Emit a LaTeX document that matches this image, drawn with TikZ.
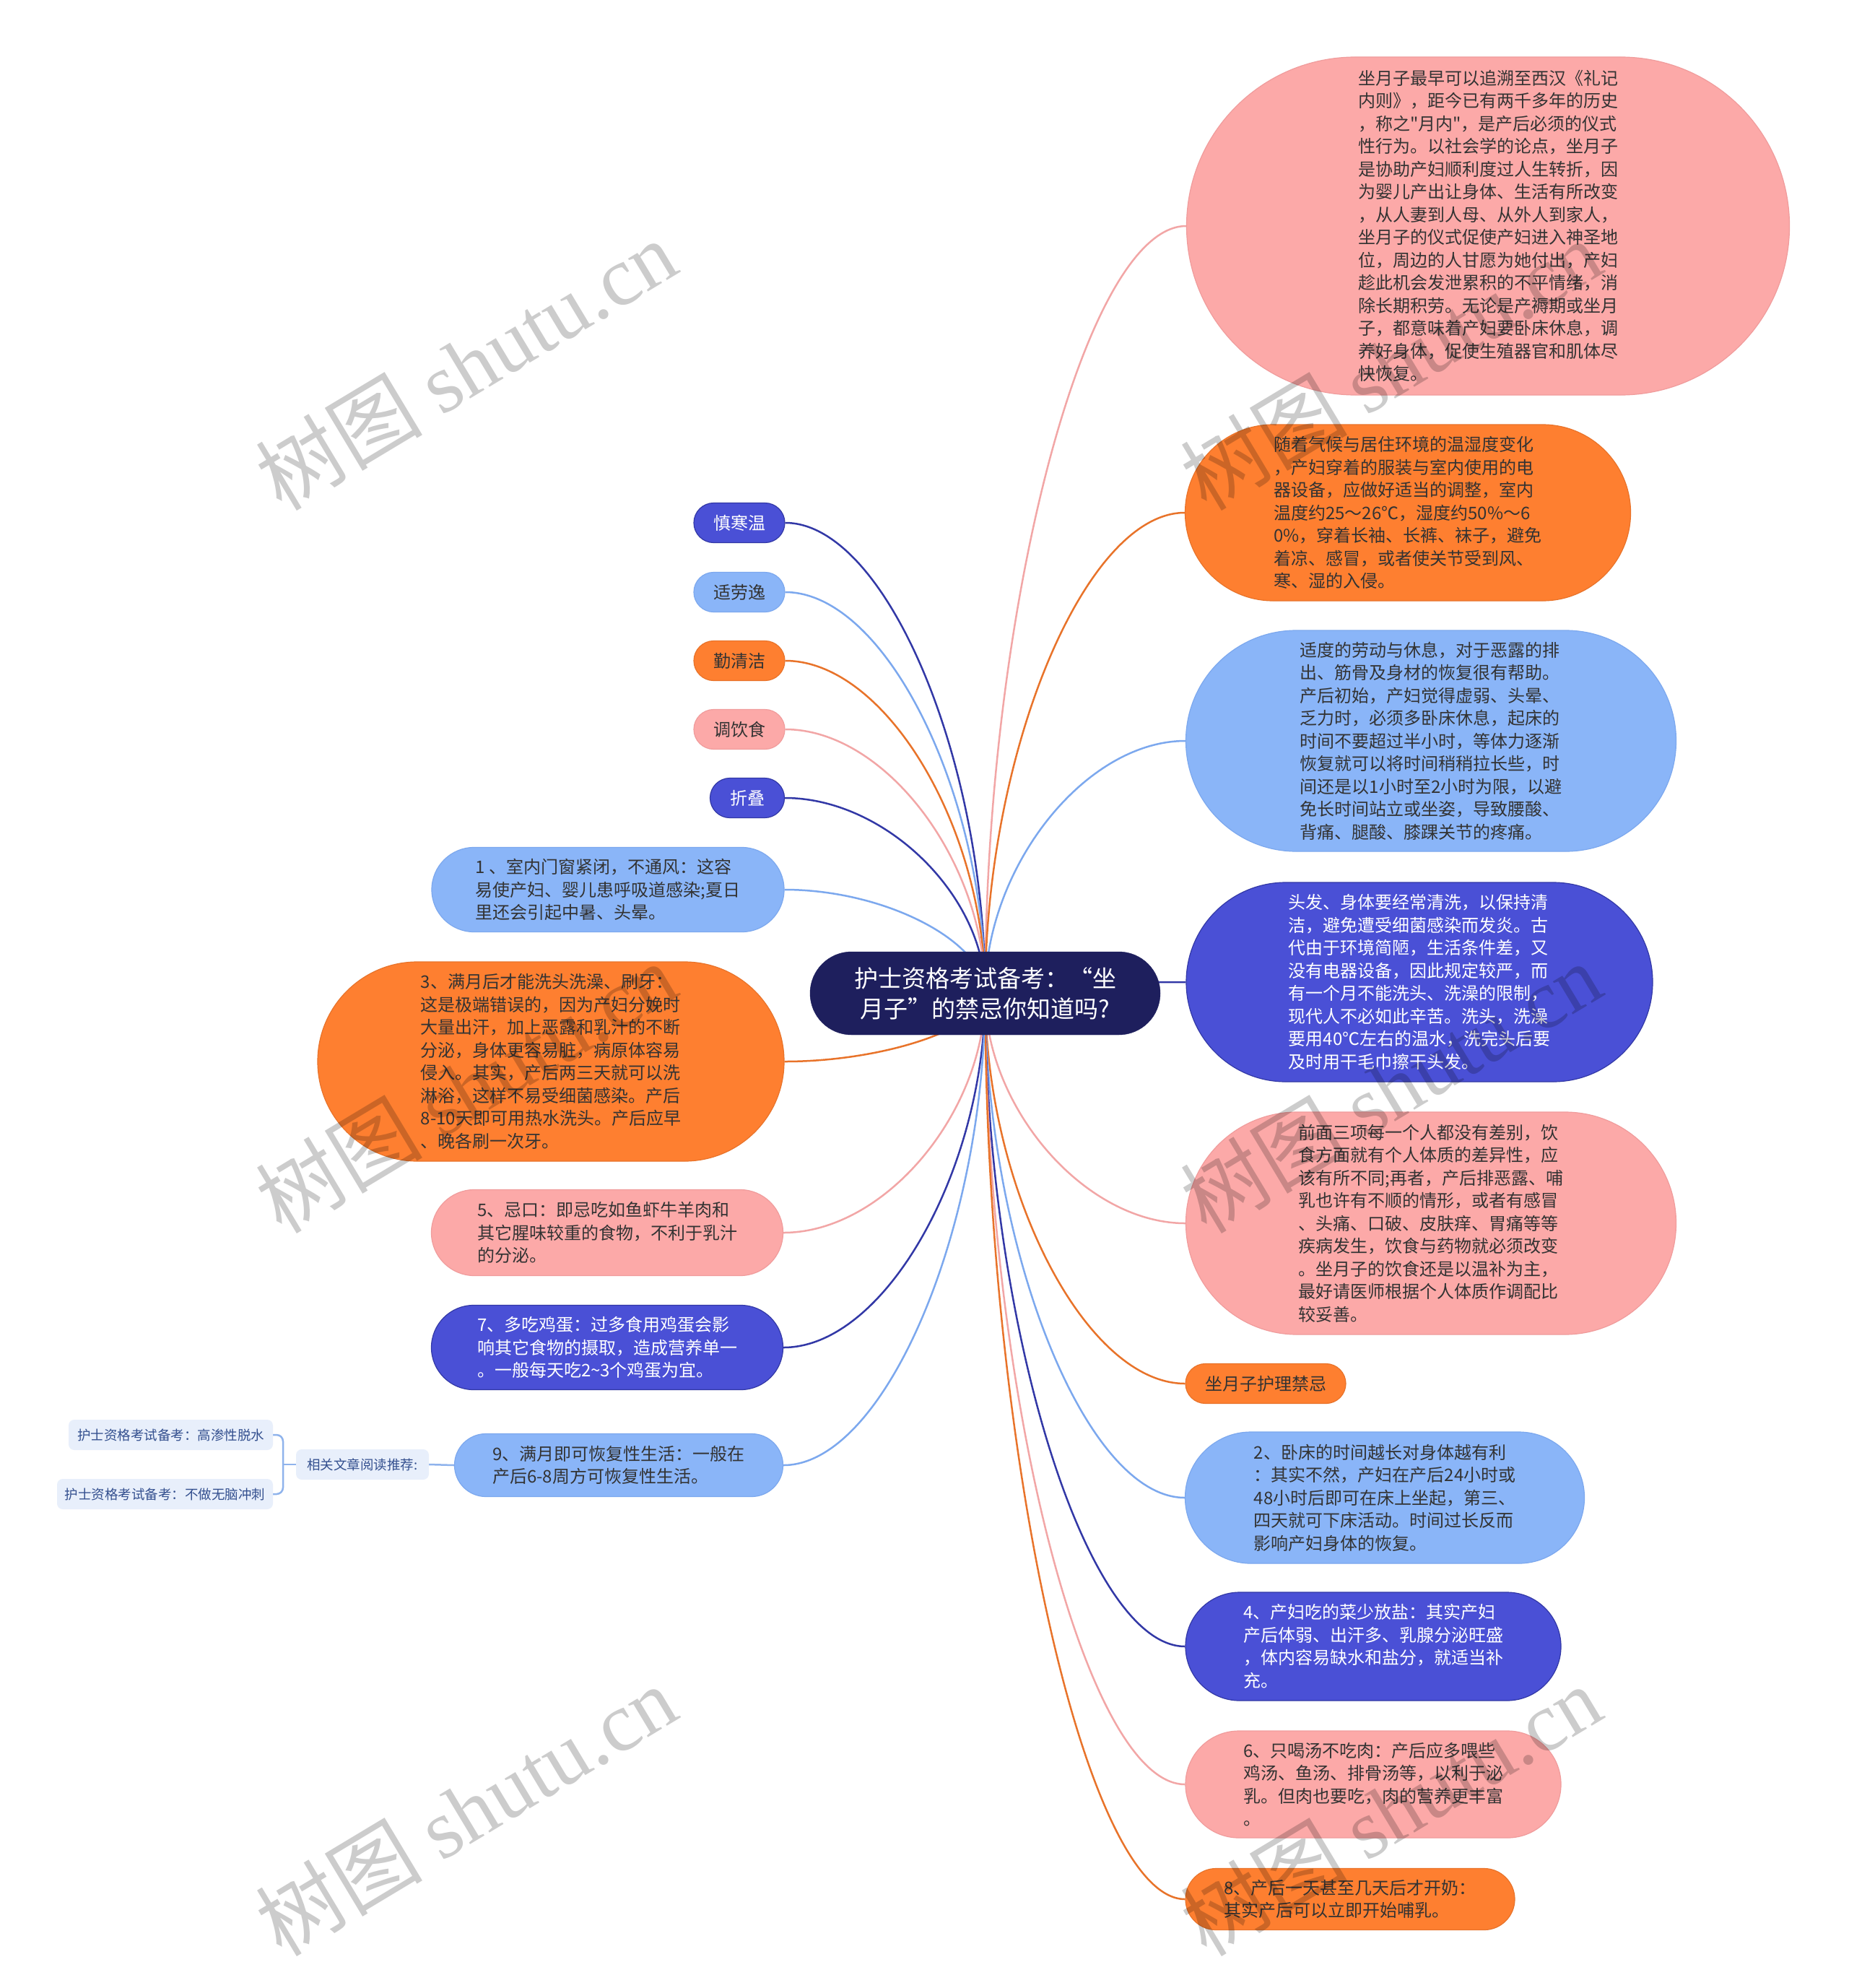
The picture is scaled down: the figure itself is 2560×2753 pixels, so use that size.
\documentclass[tikz,border=0pt]{standalone}
\usepackage{fontspec}
\newfontfamily\cjk{Noto Sans CJK SC}
\newfontfamily\wmlat{Liberation Serif}
\usetikzlibrary{calc}
\pgfdeclarelayer{bg}\pgfdeclarelayer{fg}
\pgfsetlayers{bg,main,fg}
\definecolor{pkF}{HTML}{FCA9A8}\definecolor{pkL}{HTML}{F09C9C}
\definecolor{ogF}{HTML}{FE7F30}\definecolor{ogL}{HTML}{E8732A}
\definecolor{lbF}{HTML}{8AB5F8}\definecolor{lbL}{HTML}{7CA8EE}
\definecolor{dbF}{HTML}{4A50D6}\definecolor{dbL}{HTML}{3238A6}
\definecolor{rtF}{HTML}{1E1F5D}
\definecolor{txt}{HTML}{333333}
\definecolor{relF}{HTML}{E8EFFB}\definecolor{relT}{HTML}{34508F}\definecolor{relL}{HTML}{8FB3EC}
\newcommand\mmnode[7]{\node[#1, minimum width=#5pt, minimum height=#6pt, rounded corners=#6pt/2] (#2) at (#3,#4) {#7};}
\newcommand\mmlink[2]{\draw[lnk,#1] (#2) .. controls ($(#2)!0.5!(root.center |- #2)$) and ($(root.center)!0.5!(root.center |- #2)$) .. (root.center);}
\tikzset{
  box/.style={inner sep=0pt, align=left, line width=1.2pt, font=\cjk\fontsize{24}{31.5}\selectfont},
  pk/.style={box, fill=pkF, draw=pkL, text=txt},
  og/.style={box, fill=ogF, draw=ogL, text=txt},
  lb/.style={box, fill=lbF, draw=lbL, text=txt},
  db/.style={box, fill=dbF, draw=dbL, text=white},
  rt/.style={inner sep=0pt, align=center, fill=rtF, draw=rtF, text=white, font=\cjk\fontsize{33}{42}\selectfont},
  rel/.style={inner sep=0pt, fill=relF, text=relT, rounded corners=8pt, font=\cjk\fontsize{18.5}{22}\selectfont},
  lnk/.style={line width=2.5pt},
  pkl/.style={draw=pkL!90!white}, ogl/.style={draw=ogL}, lbl/.style={draw=lbL}, dbl/.style={draw=dbL},
  brk/.style={draw=relL, line width=2.5pt},
  wm/.style={rotate=31, text=black, text opacity=0.2, inner sep=0pt, font=\fontsize{116}{116}\selectfont},
}
\begin{document}
\begin{tikzpicture}[x=1pt,y=-1pt]
\useasboundingbox (0,0) rectangle (2560,2753);
\begin{pgfonlayer}{bg}
\fill[white] (0,0) rectangle (2560,2753);
\end{pgfonlayer}

% root
\node[rt, minimum width=485pt, minimum height=115pt, rounded corners=57.5pt] (root) at (1364.5,1375.5) {护士资格考试备考：“坐\\月子”的禁忌你知道吗?};

% right side
\mmnode{pk}{r1}{2061}{313}{835}{468}{坐月子最早可以追溯至西汉《礼记\\内则》，距今已有两千多年的历史\\，称之"月内"，是产后必须的仪式\\性行为。以社会学的论点，坐月子\\是协助产妇顺利度过人生转折，因\\为婴儿产出让身体、生活有所改变\\，从人妻到人母、从外人到家人，\\坐月子的仪式促使产妇进入神圣地\\位，周边的人甘愿为她付出，产妇\\趁此机会发泄累积的不平情绪，消\\除长期积劳。无论是产褥期或坐月\\子，都意味着产妇要卧床休息，调\\养好身体，促使生殖器官和肌体尽\\快恢复。}
\mmnode{og}{r2}{1950}{710}{617}{244}{随着气候与居住环境的温湿度变化\\，产妇穿着的服装与室内使用的电\\器设备，应做好适当的调整，室内\\温度约25～26℃，湿度约50\%～6\\0\%，穿着长袖、长裤、袜子，避免\\着凉、感冒，或者使关节受到风、\\寒、湿的入侵。}
\mmnode{lb}{r3}{1982}{1026}{679}{306}{适度的劳动与休息，对于恶露的排\\出、筋骨及身材的恢复很有帮助。\\产后初始，产妇觉得虚弱、头晕、\\乏力时，必须多卧床休息，起床的\\时间不要超过半小时，等体力逐渐\\恢复就可以将时间稍稍拉长些，时\\间还是以1小时至2小时为限，以避\\免长时间站立或坐姿，导致腰酸、\\背痛、腿酸、膝踝关节的疼痛。}
\mmnode{db}{r4}{1966}{1360}{646}{276}{头发、身体要经常清洗，以保持清\\洁，避免遭受细菌感染而发炎。古\\代由于环境简陋，生活条件差，又\\没有电器设备，因此规定较严，而\\有一个月不能洗头、洗澡的限制，\\现代人不必如此辛苦。洗头，洗澡\\要用40℃左右的温水，洗完头后要\\及时用干毛巾擦干头发。}
\mmnode{pk}{r5}{1982}{1694}{679}{308}{前面三项每一个人都没有差别，饮\\食方面就有个人体质的差异性，应\\该有所不同;再者，产后排恶露、哺\\乳也许有不顺的情形，或者有感冒\\、头痛、口破、皮肤痒、胃痛等等\\疾病发生，饮食与药物就必须改变\\。坐月子的饮食还是以温补为主，\\最好请医师根据个人体质作调配比\\较妥善。}
\mmnode{og}{r6}{1753}{1916}{222}{55}{坐月子护理禁忌}
\mmnode{lb}{r7}{1918}{2074}{553}{182}{2、卧床的时间越长对身体越有利\\：其实不然，产妇在产后24小时或\\48小时后即可在床上坐起，第三、\\四天就可下床活动。时间过长反而\\影响产妇身体的恢复。}
\mmnode{db}{r8}{1902}{2280}{520}{150}{4、产妇吃的菜少放盐：其实产妇\\产后体弱、出汗多、乳腺分泌旺盛\\，体内容易缺水和盐分，就适当补\\充。}
\mmnode{pk}{r9}{1902}{2471}{520}{148}{6、只喝汤不吃肉：产后应多喂些\\鸡汤、鱼汤、排骨汤等，以利于泌\\乳。但肉也要吃，肉的营养更丰富\\。}
\mmnode{og}{r10}{1870}{2630}{456}{85}{8、产后一天甚至几天后才开奶：\\其实产后可以立即开始哺乳。}

% left side
\mmnode{db}{l1}{1024}{724}{126}{55}{慎寒温}
\mmnode{lb}{l2}{1024}{820}{126}{55}{适劳逸}
\mmnode{og}{l3}{1024}{915}{126}{55}{勤清洁}
\mmnode{pk}{l4}{1024}{1010}{126}{55}{调饮食}
\mmnode{db}{l5}{1035}{1105}{103}{55}{折叠}
\mmnode{lb}{l6}{842}{1232}{488}{117}{1 、室内门窗紧闭，不通风：这容\\易使产妇、婴儿患呼吸道感染;夏日\\里还会引起中暑、头晕。}
\mmnode{og}{l7}{763}{1470}{646}{276}{3、满月后才能洗头洗澡、刷牙：\\这是极端错误的，因为产妇分娩时\\大量出汗，加上恶露和乳汁的不断\\分泌，身体更容易脏，病原体容易\\侵入。其实，产后两三天就可以洗\\淋浴，这样不易受细菌感染。产后\\8-10天即可用热水洗头。产后应早\\、晚各刷一次牙。}
\mmnode{pk}{l8}{841}{1707}{487}{119}{5、忌口：即忌吃如鱼虾牛羊肉和\\其它腥味较重的食物，不利于乳汁\\的分泌。}
\mmnode{db}{l9}{841}{1866}{487}{117}{7、多吃鸡蛋：过多食用鸡蛋会影\\响其它食物的摄取，造成营养单一\\。一般每天吃2{\char`\~}3个鸡蛋为宜。}
\mmnode{lb}{l10}{857}{2029}{455}{87}{9、满月即可恢复性生活：一般在\\产后6-8周方可恢复性生活。}

% related articles
\node[rel, minimum width=184pt, minimum height=42pt] (rel) at (502,2028) {相关文章阅读推荐:};
\node[rel, minimum width=283pt, minimum height=42pt] (s1) at (236.5,1987) {护士资格考试备考：高渗性脱水};
\node[rel, minimum width=299pt, minimum height=42pt] (s2) at (228.5,2069) {护士资格考试备考：不做无脑冲刺};
\coordinate (bx) at (392,2028);

\begin{pgfonlayer}{bg}
\mmlink{pkl}{r1.west}
\mmlink{ogl}{r2.west}
\mmlink{lbl}{r3.west}
\mmlink{dbl}{r4.west}
\mmlink{pkl}{r5.west}
\mmlink{ogl}{r6.west}
\mmlink{lbl}{r7.west}
\mmlink{dbl}{r8.west}
\mmlink{pkl}{r9.west}
\mmlink{ogl}{r10.west}
\mmlink{dbl}{l1.east}
\mmlink{lbl}{l2.east}
\mmlink{ogl}{l3.east}
\mmlink{pkl}{l4.east}
\mmlink{dbl}{l5.east}
\mmlink{lbl}{l6.east}
\mmlink{ogl}{l7.east}
\mmlink{pkl}{l8.east}
\mmlink{dbl}{l9.east}
\mmlink{lbl}{l10.east}
\draw[brk] (rel.east) -- (l10.west);
\draw[brk] (bx) -- (rel.west);
\draw[brk, rounded corners=9pt] (s1.east) -| (bx) |- (s2.east);
\end{pgfonlayer}

% watermarks
\begin{pgfonlayer}{fg}
\foreach \wx/\wy [count=\i] in {645/505,1926/505,645/1506,1926/1506,645/2507,1926/2507}
  \node[wm] (wm\i) at (\wx,\wy) {\cjk 树图 \wmlat shutu.cn};
\end{pgfonlayer}
\end{tikzpicture}
\end{document}
